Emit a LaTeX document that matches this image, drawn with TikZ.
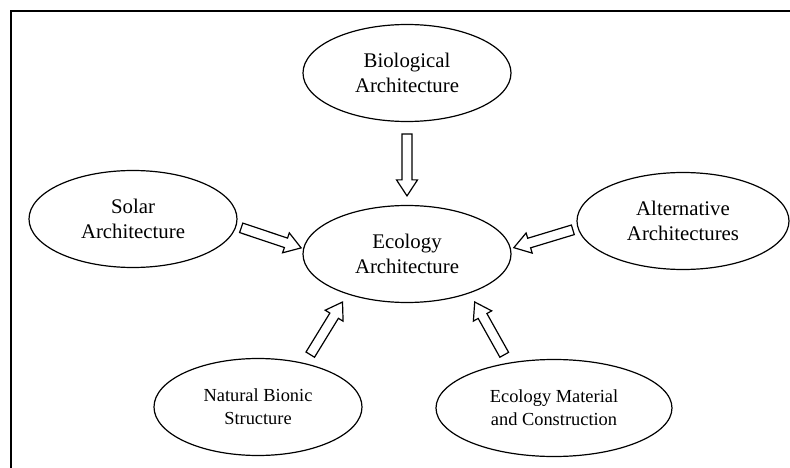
\documentclass[tikz,border=0pt]{standalone}
\usepackage{fontspec}
\setmainfont{Liberation Serif}
\usetikzlibrary{calc, positioning, shapes.geometric}
\tikzset{
  lw/.style={line width=#1},
  bubble/.style={draw, ellipse, lw=1.2pt, inner sep=0pt, align=center,
    minimum width=#1, minimum height=97pt,
    font=\fontsize{20.8}{25}\selectfont},
  bubble/.default=208pt,
  small/.style={font=\fontsize{18.4}{23}\selectfont},
  blk/.style={draw, lw=1.2pt, fill=white, line join=miter},
}
% hollow block arrow between two border points, with gaps
\newcommand\flowarrow[4]{%
  \draw[blk] let \p1=($(#1)!#3!(#2)$), \p2=($(#2)!#4!(#1)$),
    \n1={atan2(\y2-\y1,\x2-\x1)}, \n2={veclen(\x2-\x1,\y2-\y1)} in
    [shift={(\p1)}, rotate=\n1]
    (0pt,-5pt) -- ({\n2-16pt},-5pt) -- ({\n2-16pt},-10.5pt) -- ({\n2},0pt)
    -- ({\n2-16pt},10.5pt) -- ({\n2-16pt},5pt) -- (0pt,5pt) -- cycle;}

\begin{document}
\begin{tikzpicture}[x=1pt,y=-1pt]
\useasboundingbox (0,0) rectangle (790,468);

% frame
\draw[lw=2.3pt] (11,468) -- (11,11) -- (790,11);

\node[bubble] (eco) at (407,254) {Ecology\\Architecture};
\node[bubble] (bio) at (407,73) {Biological\\Architecture};
\node[bubble] (solar) at (133,219) {Solar\\Architecture};
\node[bubble=212pt] (alt) at (683,221) {Alternative\\Architectures};
\node[bubble, small] (nat) at (258,407) {Natural Bionic\\Structure};
\node[bubble=236pt, small] (mat) at (554,408) {Ecology Material\\and Construction};

\flowarrow{bio.-90}{eco.90}{12pt}{9pt}
\flowarrow{solar.-4}{eco.177}{5pt}{2pt}
\flowarrow{alt.184}{eco.3}{5pt}{3pt}
\flowarrow{nat.43}{eco.214}{10pt}{9pt}
\flowarrow{mat.135}{eco.-32}{9pt}{10pt}

\end{tikzpicture}
\end{document}
